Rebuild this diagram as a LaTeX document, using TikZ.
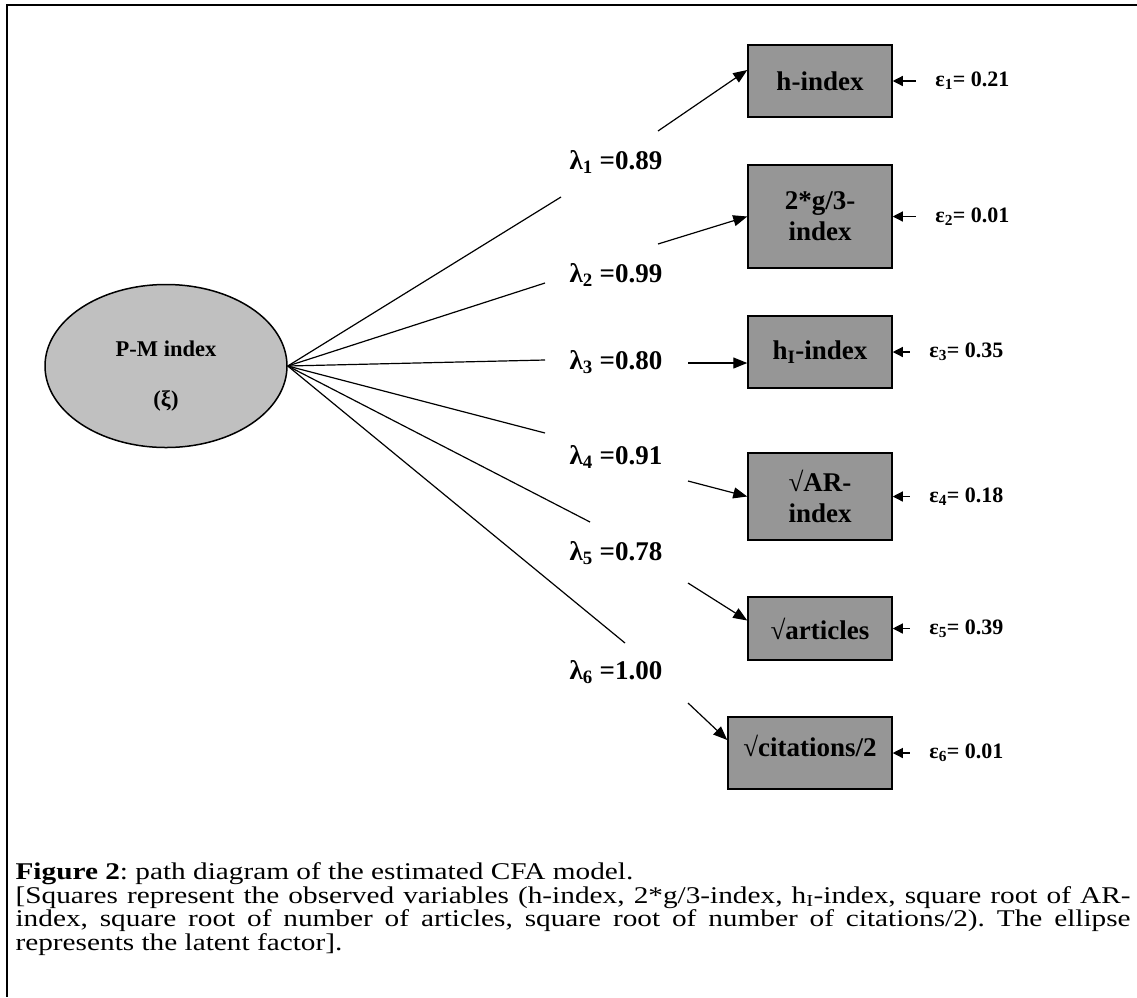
\documentclass[tikz,border=0pt]{standalone}
\usepackage{fontspec}
\setmainfont{Liberation Serif}
\newfontfamily\captfont[FakeStretch=1.22]{Liberation Serif}
\usetikzlibrary{shapes.geometric,arrows.meta,positioning}
\definecolor{obsgray}{RGB}{150,150,150}
\definecolor{latgray}{RGB}{192,192,192}
\begin{document}
\begin{tikzpicture}[x=1pt, y=-1pt, >={Triangle[length=14pt,width=11pt]}, line width=1.2pt, node distance=36pt,
	latent/.style={ellipse, draw, fill=latgray, line width=1.5pt, minimum width=242pt, minimum height=163pt, align=center, font=\bfseries\fontsize{22.5}{25}\selectfont},
	obs/.style={rectangle, draw, fill=obsgray, line width=1.5pt, minimum width=144pt, minimum height=72pt, align=center, font=\bfseries\fontsize{27}{31}\selectfont},
	load/.style={font=\bfseries\fontsize{27}{30}\selectfont},
	err/.style={font=\bfseries\fontsize{22}{24}\selectfont, inner sep=2pt},
	errarrow/.style={->, >={Triangle[length=10pt,width=10pt]}, shorten <=17pt},
	capt/.style={font=\captfont\frenchspacing\fontsize{24}{23.5}\selectfont, text width=1115pt, align=justify, inner sep=0pt}]
	\useasboundingbox (0,0) rectangle (1137,997);
	\draw[line width=2.2pt] (1137,5) -- (7,5) -- (7,997);
	
	\node[latent] (pm) at (166,366) {\rule{0pt}{36pt}P-M index\\[25pt](ξ)};
	
	\node[obs] (b1) at (820,81) {h-index};
	\node[obs, minimum height=103pt] (b2) at (820,216.5) {2*g/3-\\index};
	\node[obs] (b3) at (820,352) {h\textsubscript{I}-index};
	\node[obs, minimum height=87pt] (b4) at (820,496.5) {√AR-\\index};
	\node[obs, minimum height=63pt] (b5) at (820,628.5) {√articles};
	\node[obs, minimum width=164pt] (b6) at (810,753) {√citations/2\rule[-14pt]{0pt}{14pt}};
	
	\node[load] (l1) at (616,162) {λ\textsubscript{1} =0.89};
	\node[load] (l2) at (616,275) {λ\textsubscript{2} =0.99};
	\node[load] (l3) at (616,362) {λ\textsubscript{3} =0.80};
	\node[load] (l4) at (616,457) {λ\textsubscript{4} =0.91};
	\node[load] (l5) at (616,553) {λ\textsubscript{5} =0.78};
	\node[load] (l6) at (616,672) {λ\textsubscript{6} =1.00};
	
	\node[err, right=40pt of b1] (ep1) {ε\textsubscript{1}= 0.21};
	\node[err, right=40pt of b2] (ep2) {ε\textsubscript{2}= 0.01};
	\node[err, right=34pt of b3] (ep3) {ε\textsubscript{3}= 0.35};
	\node[err, right=34pt of b4] (ep4) {ε\textsubscript{4}= 0.18};
	\node[err, right=34pt of b5] (ep5) {ε\textsubscript{5}= 0.39};
	\node[err, right=34pt of b6] (ep6) {ε\textsubscript{6}= 0.01};
	
	% ends of the loading lines, either side of the labels
	\coordinate (e1) at (561,197);  \coordinate (s1) at (658,131);
	\coordinate (e2) at (545,283);  \coordinate (s2) at (658,244);
	\coordinate (e3) at (545,360);  \coordinate (s3) at (688,363);
	\coordinate (e4) at (545,433);  \coordinate (s4) at (688,481);
	\coordinate (e5) at (590,522);  \coordinate (s5) at (688,583);
	\coordinate (e6) at (625,643);  \coordinate (s6) at (688,703);
	
	\draw (pm.east) -- (e1);
	\draw (pm.east) -- (e2);
	\draw (pm.east) -- (e3);
	\draw (pm.east) -- (e4);
	\draw (pm.east) -- (e5);
	\draw (pm.east) -- (e6);
	\draw[->] (s1) -- ([yshift=11pt]b1.west);
	\draw[->] (s2) -- (b2.west);
	\draw[->] (s3) -- ([yshift=-11pt]b3.west);
	\draw[->] (s4) -- (b4.west);
	\draw[->] (s5) -- ([yshift=8pt]b5.west);
	\draw[->] (s6) -- ([yshift=13pt]b6.west);
	
	\draw[errarrow] (ep1) -- (b1);
	\draw[errarrow] (ep2) -- (b2);
	\draw[errarrow] (ep3) -- (b3);
	\draw[errarrow] (ep4) -- (b4);
	\draw[errarrow] (ep5) -- (b5);
	\draw[errarrow] (ep6) -- (b6);
	
	\node[capt, anchor=north west] (cap) at (15,862) {\textbf{Figure 2}: path diagram of the estimated CFA model.\\{}[Squares represent the observed variables (h-index, 2*g/3-index, h\textsubscript{I}-index, square root of AR-\linebreak index, square root of number of articles, square root of number of citations/2). The ellipse\linebreak represents the latent factor].};
\end{tikzpicture}
\end{document}
